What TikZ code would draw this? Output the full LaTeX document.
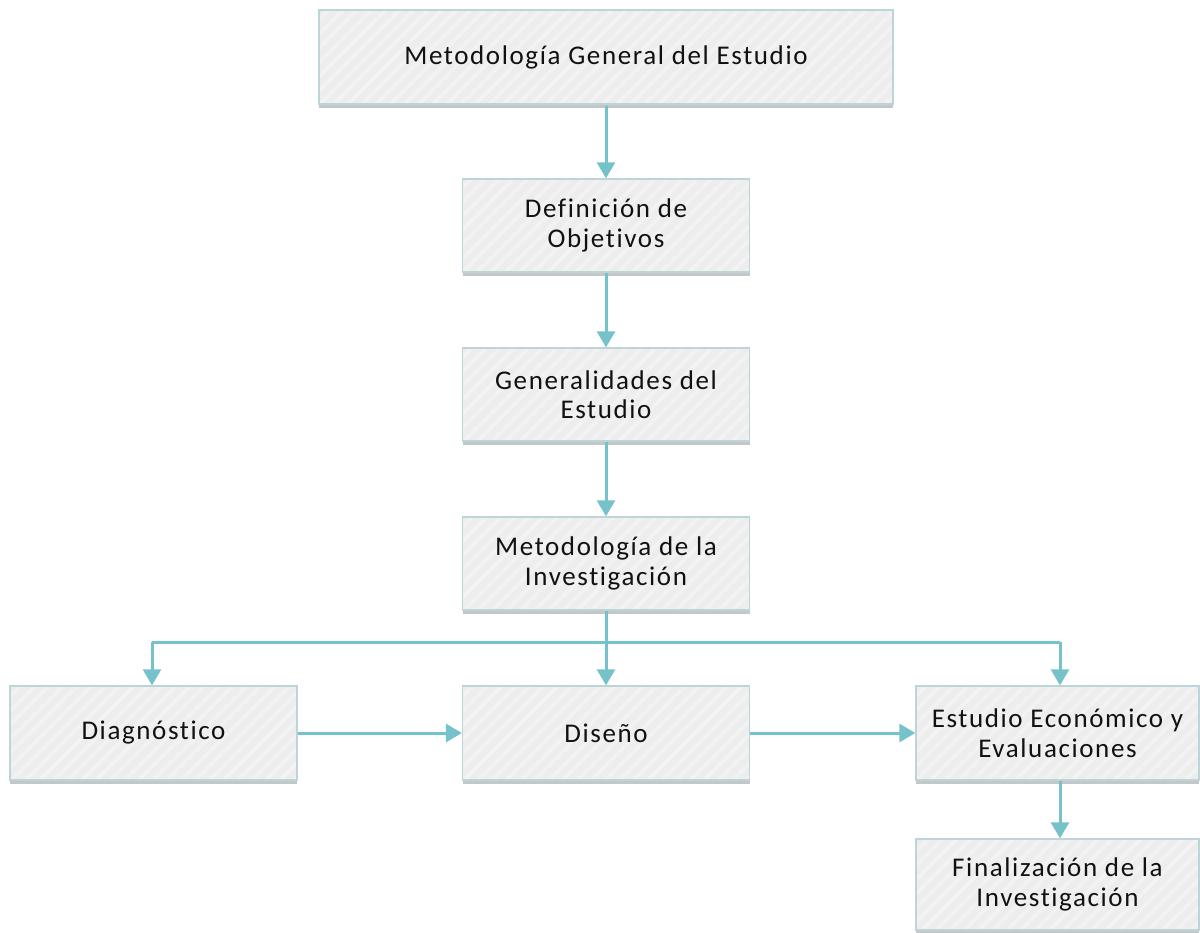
\documentclass[tikz,border=0pt]{standalone}
\usepackage{fontspec}
\setmainfont{Carlito}[LetterSpace=6,Ligatures={NoCommon,NoRequired,NoContextual}]
\usetikzlibrary{arrows.meta,shadows,patterns.meta}
\definecolor{boxgray}{HTML}{EDEDED}
\definecolor{boxstripe}{HTML}{F2F2F2}
\definecolor{boxline}{HTML}{BCD5D8}
\definecolor{shade}{HTML}{C4C7C8}
\definecolor{arrowteal}{HTML}{76C2CB}
\definecolor{txt}{HTML}{111111}
\tikzset{
  box/.style={rectangle, draw=boxline, line width=1.3pt,
    drop shadow={shadow xshift=0pt, shadow yshift=-4pt, fill=shade, opacity=1},
    preaction={fill=boxgray},
    pattern={Lines[angle=45,distance=10pt,line width=4pt]}, pattern color=boxstripe,
    minimum width=287pt, minimum height=93pt, inner sep=0pt,
    align=center, text=txt, font=\fontsize{27}{29.5}\selectfont},
  conn/.style={draw=arrowteal, line width=3pt,
    -{Triangle[width=18pt,length=16pt]}},
  bus/.style={draw=arrowteal, line width=3pt}
}
\begin{document}
\begin{tikzpicture}[x=1pt,y=-1pt]
\useasboundingbox (0,0) rectangle (1200,933);
\node[box, minimum width=574pt, minimum height=94pt] (top) at (606,57) {Metodología General del Estudio};
\node[box] (def) at (606,225.5) {Definición de\\Objetivos};
\node[box] (gen) at (606,394.5) {Generalidades del\\Estudio};
\node[box] (met) at (606,563.5) {Metodología de la\\Investigación};
\node[box, minimum height=94pt] (diag) at (153.5,733) {Diagnóstico};
\node[box, minimum height=94pt] (dis) at (606,733) {Diseño};
\node[box, minimum width=283pt, minimum height=94pt] (est) at (1057.5,733) {Estudio Económico y\\Evaluaciones};
\node[box, minimum width=283pt, minimum height=91pt] (fin) at (1057.5,884.5) {Finalización de la\\Investigación};
\coordinate (busL) at (152,642);
\coordinate (busR) at (1060,642);
\coordinate (busM) at (606,642);
\draw[conn] (top.south) -- (def.north);
\draw[conn] (def.south) -- (gen.north);
\draw[conn] (gen.south) -- (met.north);
\draw[bus] (met.south) -- (busM);
\draw[conn] (busM) -- (dis.north);
\draw[bus] (busL) -- (busR);
\draw[conn] (busL) -- (busL |- diag.north);
\draw[conn] (busR) -- (busR |- est.north);
\draw[conn] (diag.east) -- (dis.west);
\draw[conn] (dis.east) -- (est.west);
\draw[conn] (busR |- est.south) -- (busR |- fin.north);
\end{tikzpicture}
\end{document}
